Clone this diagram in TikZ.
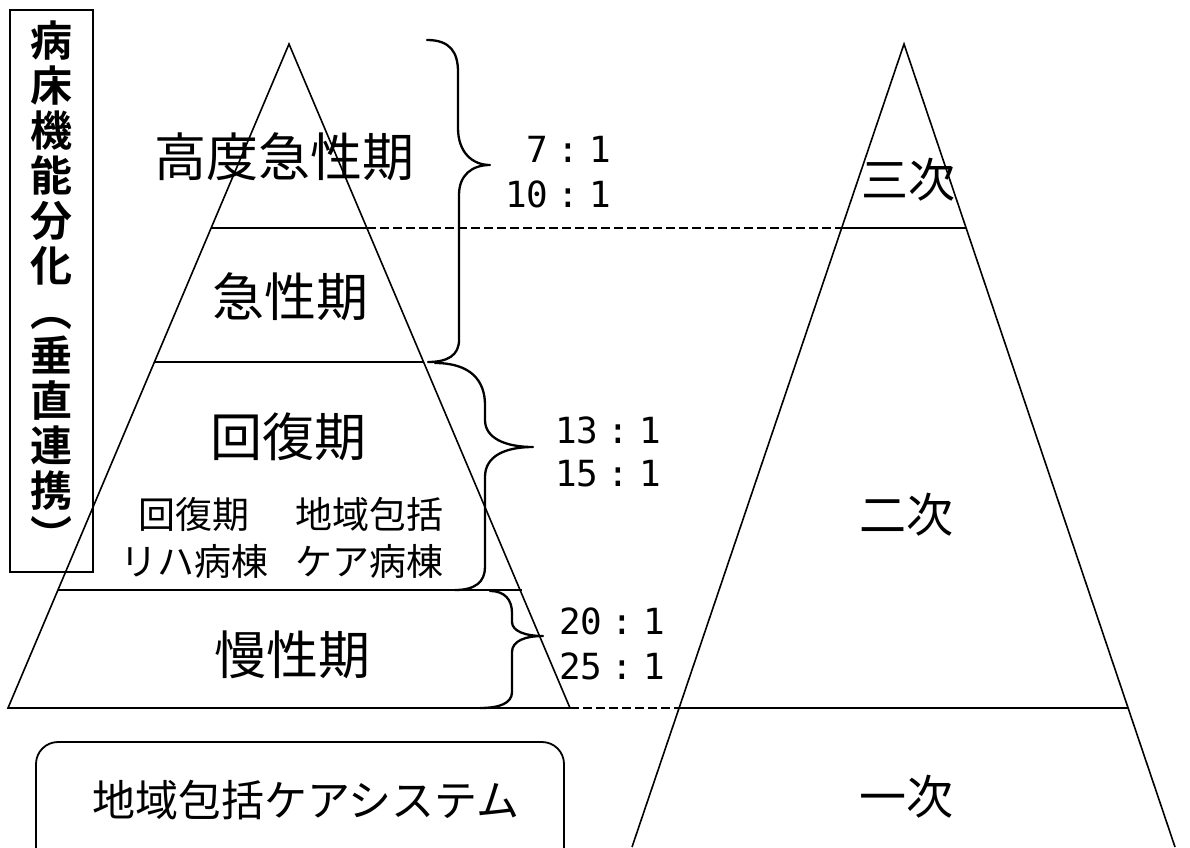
\documentclass[tikz,border=0pt]{standalone}
\usepackage{fontspec}
\newfontfamily\jp{Noto Sans CJK JP}
\newfontfamily\jpb{Noto Sans CJK JP Bold}
\newfontfamily\mono{DejaVu Sans Mono}
\newcommand\rt[2]{#1\hspace{9.5pt}:\hspace{9.5pt}#2}
\begin{document}
\begin{tikzpicture}[x=1pt,y=-1pt,
  edge/.style={line width=1.6pt},
  lvl/.style={line width=1.6pt},
  dsh/.style={line width=1.6pt, dash pattern=on 9pt off 4pt},
  brace/.style={line width=2.3pt, line join=round, line cap=round},
  big/.style={font=\jp\fontsize{52}{52}\selectfont, inner sep=0},
  mid/.style={font=\jp\fontsize{47}{47}\selectfont, inner sep=0},
  small/.style={font=\jp\fontsize{37}{47}\selectfont, inner sep=0, align=center},
  ratio/.style={font=\mono\fontsize{36}{36}\selectfont, inner sep=0, anchor=east}]
\useasboundingbox (0,0) rectangle (1190,847);
\fill[white] (0,0) rectangle (1190,847);
% left pyramid
\coordinate (LA) at (289,44);
\coordinate (LBL) at (8,708);
\coordinate (LBR) at (570,708);
\coordinate (L1a) at (211,228); \coordinate (L1b) at (367,228);
\coordinate (L2a) at (154,362); \coordinate (L2b) at (424,362);
\coordinate (L3a) at (58,590);  \coordinate (L3b) at (522,590);
% right pyramid
\coordinate (RA) at (904,44);
\coordinate (RBL) at (632,847);
\coordinate (RBR) at (1175,847);
\coordinate (R1a) at (842,228); \coordinate (R1b) at (966,228);
\coordinate (R2a) at (679,708); \coordinate (R2b) at (1128,708);
\draw[edge] (LBL) -- (LA) -- (LBR) -- cycle;
\draw[lvl] (L1a) -- (L1b);
\draw[lvl] (L2a) -- (L2b);
\draw[lvl] (L3a) -- (L3b);
\draw[edge] (RBL) -- (RA) -- (RBR);
\draw[lvl] (R1a) -- (R1b);
\draw[lvl] (R2a) -- (R2b);
\draw[dsh] (L1b) -- (R1a);
\draw[dsh] (LBR) -- (R2a);
% braces
\draw[brace] (427,40) .. controls (450,40) and (458,52) .. (458,72) -- (458,128)
  .. controls (458,152) and (472,165) .. (490,165)
  .. controls (472,165) and (459,175) .. (459,195) -- (459,340)
  .. controls (459,355) and (448,362) .. (428,362);
\draw[brace] (435,363) .. controls (470,363) and (485,380) .. (485,405) -- (485,420)
  .. controls (485,438) and (505,447) .. (533,447)
  .. controls (505,447) and (485,456) .. (485,477) -- (485,567)
  .. controls (485,582) and (475,590) .. (455,590);
\draw[brace] (490,591) .. controls (505,591) and (512,600) .. (512,613) -- (512,622)
  .. controls (512,631) and (525,636) .. (543,636)
  .. controls (525,636) and (512,641) .. (512,652) -- (512,692)
  .. controls (512,703) and (500,708) .. (480,708);
% labels
\node[big] (kodo) at (284,157) {高度急性期};
\node[big] (kyu) at (290,297) {急性期};
\node[big] (kaifuku) at (288,437) {回復期};
\node[small] (riha) at (194,538) {回復期\\リハ病棟};
\node[small] (chiiki) at (369,538) {地域包括\\ケア病棟};
\node[big] (mansei) at (292,655) {慢性期};
\node[ratio] (r7) at (611,149) {\rt{7}{1}};
\node[ratio] (r10) at (611,194) {\rt{10}{1}};
\node[ratio] (r13) at (661,430) {\rt{13}{1}};
\node[ratio] (r15) at (661,474) {\rt{15}{1}};
\node[ratio] (r20) at (665,621) {\rt{20}{1}};
\node[ratio] (r25) at (665,666) {\rt{25}{1}};
\node[mid] (sanji) at (908,180) {三次};
\node[mid] (niji) at (906,515) {二次};
\node[mid] (ichiji) at (906,797) {一次};
% vertical title box
\node[draw, line width=1.6pt, minimum width=83pt, minimum height=562pt, inner sep=0] (vbox) at (51.5,291) {};
\node[font=\jpb\fontsize{42}{45}\selectfont, align=center, inner sep=0] (vtext) at (51,286)
  {病\\床\\機\\能\\分\\化\\︵\\垂\\直\\連\\携\\︶};
% bottom box
\draw[line width=1.8pt, rounded corners=22pt] (36,900) -- (36,742) -- (564,742) -- (564,900);
\node[font=\jp\fontsize{43}{43}\selectfont, inner sep=0] (care) at (306,800) {地域包括ケアシステム};
\end{tikzpicture}
\end{document}
